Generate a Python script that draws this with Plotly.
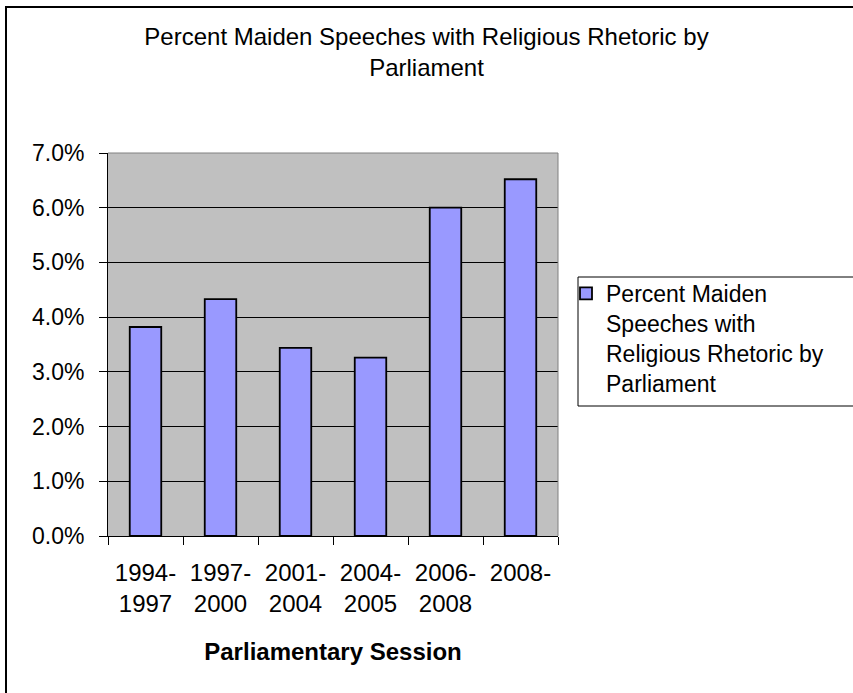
import plotly.graph_objects as go

categories = ["1994-<br>1997", "1997-<br>2000", "2001-<br>2004", "2004-<br>2005", "2006-<br>2008", "2008-"]
values = [0.0382, 0.0433, 0.0344, 0.0326, 0.0600, 0.0652]
series_name = "Percent Maiden<br>Speeches with<br>Religious Rhetoric by<br>Parliament"
title_text = "Percent Maiden Speeches with Religious Rhetoric by<br>Parliament"
x_title = "Parliamentary Session"

W, H = 853, 693
L, R, T, B = 108, 295, 153, 157
PW, PH = W - L - R, H - T - B


def px_x(px):
    return (px - L) / PW


def px_y(py):
    return (H - B - py) / PH


FONT = "Liberation Sans, Arial, sans-serif"

fig = go.Figure()
fig.add_trace(go.Bar(
    x=categories, y=values, name=series_name,
    marker=dict(color="#9999FF", line=dict(color="black", width=1.8)),
    showlegend=True,
))

shapes = [
    # outer chart frame (left and top edges visible)
    dict(type="line", xref="paper", yref="paper", x0=px_x(6), x1=px_x(6), y0=px_y(7), y1=px_y(710),
         line=dict(color="black", width=2)),
    dict(type="line", xref="paper", yref="paper", x0=px_x(5), x1=px_x(870), y0=px_y(7), y1=px_y(7),
         line=dict(color="black", width=2)),
    # plot area border top / right
    dict(type="line", xref="paper", yref="paper", x0=0, x1=1, y0=1, y1=1,
         line=dict(color="#808080", width=1), layer="above"),
    dict(type="line", xref="paper", yref="paper", x0=1, x1=1, y0=0, y1=1,
         line=dict(color="#808080", width=1), layer="above"),
    # legend box
    dict(type="rect", xref="paper", yref="paper", x0=px_x(578), x1=px_x(870), y0=px_y(406), y1=px_y(277),
         line=dict(color="black", width=1), fillcolor="rgba(0,0,0,0)"),
]

fig.update_layout(
    width=W, height=H,
    margin=dict(l=L, r=R, t=T, b=B, autoexpand=False),
    paper_bgcolor="white", plot_bgcolor="#C0C0C0",
    font=dict(family=FONT, size=23, color="black"),
    title=dict(text=title_text, x=0.5, xref="container", xanchor="center",
               y=1 - 45 / H, yref="container", yanchor="top",
               font=dict(family=FONT, size=24, color="black")),
    bargap=0.58,
    showlegend=True,
    legend=dict(x=px_x(566), y=px_y(272), xref="paper", yref="paper", xanchor="left", yanchor="top",
                bgcolor="rgba(0,0,0,0)", borderwidth=0, valign="top",
                font=dict(family=FONT, size=23, color="black")),
    shapes=shapes,
)

fig.update_yaxes(range=[0, 0.07], dtick=0.01, tickformat=".1%",
                 showgrid=True, gridcolor="black", gridwidth=1, zeroline=False,
                 showline=True, linecolor="black", linewidth=1,
                 ticks="outside", ticklen=8, tickcolor="black", tickwidth=1,
                 ticklabelstandoff=10, fixedrange=True)
fig.update_xaxes(showgrid=False, zeroline=False, showline=True, linecolor="black", linewidth=1,
                 ticks="outside", ticklen=8, tickcolor="black", tickwidth=1, tickson="boundaries",
                 ticklabelstandoff=15, tickangle=0, tickfont=dict(family=FONT, size=24, color="black"),
                 title=dict(text="<b>" + x_title + "</b>", standoff=27,
                            font=dict(family=FONT, size=24, color="black")),
                 fixedrange=True)

fig.write_html("out.html")
